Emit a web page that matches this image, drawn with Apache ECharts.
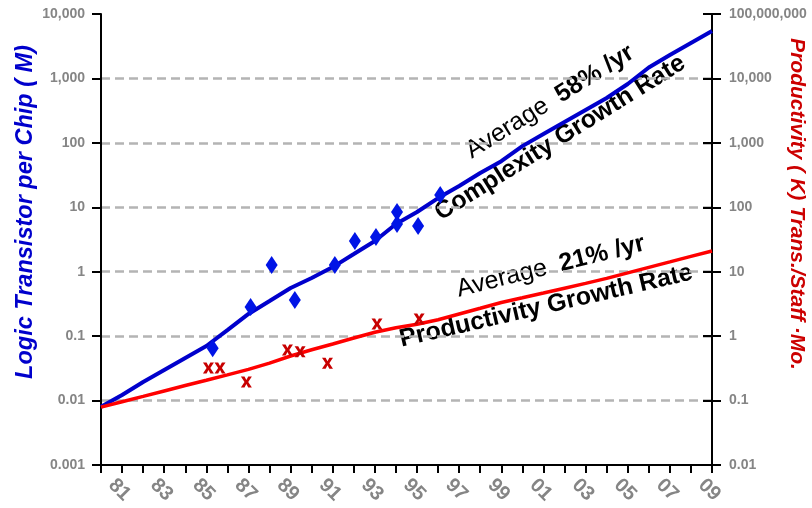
<!DOCTYPE html>
<html>
<head>
<meta charset="utf-8">
<script src="https://cdn.jsdelivr.net/npm/echarts@6/dist/echarts.min.js"></script>
<style>
  html, body { margin: 0; padding: 0; background: #fff; }
  #chart { width: 812px; height: 508px; }
</style>
</head>
<body>
<div id="chart"></div>
<script>
// Trend lines, one value per year
const lineYears = [1980, 1981, 1982, 1983, 1984, 1985, 1986, 1987, 1988, 1989,
                   1990, 1991, 1992, 1993, 1994, 1995, 1996, 1997, 1998, 1999,
                   2000, 2001, 2002, 2003, 2004, 2005, 2006, 2007, 2008, 2009];
// Logic transistors per chip (M)
const complexity = [0.008, 0.0122, 0.0194, 0.0298, 0.0458, 0.0703, 0.124, 0.221, 0.351, 0.559,
                    0.80, 1.18, 1.88, 3.0, 5.5, 8.45, 13.9, 21.4, 34, 52,
                    89, 137, 211, 324, 497, 819, 1479, 2307, 3548, 5445];
// Productivity (K transistors per staff-month)
const productivity = [0.079, 0.096, 0.116, 0.141, 0.171, 0.207, 0.251, 0.305, 0.382, 0.492,
                      0.614, 0.755, 0.935, 1.15, 1.35, 1.53, 1.80, 2.21, 2.71, 3.33,
                      3.94, 4.67, 5.55, 6.59, 7.87, 9.58, 11.7, 14.2, 17.3, 21.0];

// Individual designs: transistor count (M)
const chipYears = [1985.3, 1987.1, 1988.1, 1989.2, 1991.1, 1992.05, 1993.05, 1994.05, 1994.05, 1995.05, 1996.1];
const chipTransistors = [0.065, 0.283, 1.27, 0.364, 1.27, 3.0, 3.46, 8.45, 5.5, 5.12, 15.5];

// Individual designs: productivity (K trans./staff-month)
const teamYears = [1985.1, 1985.65, 1986.9, 1988.85, 1989.45, 1990.75, 1993.1, 1995.1];
const teamProductivity = [0.32, 0.32, 0.194, 0.61, 0.57, 0.38, 1.54, 1.85];

// Axis tick labels
const yearLabels = ['81', '82', '83', '84', '85', '86', '87', '88', '89', '90',
                    '91', '92', '93', '94', '95', '96', '97', '98', '99', '00',
                    '01', '02', '03', '04', '05', '06', '07', '08', '09'];
const leftTickLabels = ['0.001', '0.01', '0.1', '1', '10', '100', '1,000', '10,000'];
const rightTickLabels = ['0.01', '0.1', '1', '10', '100', '1,000', '10,000', '100,000,000'];

const pair = (xs, ys) => xs.map((x, i) => [x, ys[i]]);
const decadeIndex = (v, min) => Math.round(Math.log10(v) - Math.log10(min));

const FONT = '"Liberation Sans", Arial, Helvetica, sans-serif';
const tickLabelStyle = { color: '#858585', fontWeight: 'bold', fontSize: 14, fontFamily: FONT };
const black2 = { color: '#000', width: 2 };
const crossMark = 'path://M0,0 L3.3,0 L5,3.1 L6.7,0 L10,0 L6.7,5 L10,10 L6.7,10 L5,6.9 L3.3,10 L0,10 L3.3,5 Z';

const chart = echarts.init(document.getElementById('chart'), null, { renderer: 'canvas' });

chart.setOption({
  animation: false,
  backgroundColor: '#fff',
  grid: { left: 101, right: 100, top: 14, bottom: 43, containLabel: false },
  xAxis: [
    {
      type: 'value', min: 1980, max: 2009, interval: 1,
      axisLine: { show: true, lineStyle: black2 },
      axisTick: { show: true, length: 8, lineStyle: black2 },
      axisLabel: { show: false },
      splitLine: { show: false }
    },
    {
      type: 'category', data: yearLabels, position: 'bottom', boundaryGap: true,
      axisLine: { show: false }, axisTick: { show: false },
      axisLabel: {
        interval: 1, rotate: -45, margin: 17,
        color: '#858585', fontWeight: 'bold', fontSize: 20, fontFamily: FONT
      },
      splitLine: { show: false }
    }
  ],
  yAxis: [
    {
      type: 'log', logBase: 10, min: 0.001, max: 10000, position: 'left',
      axisLine: { show: true, lineStyle: black2 },
      axisTick: { show: true, length: 9, lineStyle: black2 },
      axisLabel: Object.assign({
        margin: 16,
        formatter: v => leftTickLabels[decadeIndex(v, 0.001)] || ''
      }, tickLabelStyle),
      minorTick: { show: false },
      splitLine: {
        show: true, showMinLine: false, showMaxLine: false,
        lineStyle: { color: '#b4b4b4', width: 2.5, type: [9, 5] }
      }
    },
    {
      type: 'log', logBase: 10, min: 0.01, max: 100000, position: 'right',
      axisLine: { show: true, lineStyle: black2 },
      axisTick: { show: true, length: 9, lineStyle: black2 },
      axisLabel: Object.assign({
        margin: 17,
        formatter: v => rightTickLabels[decadeIndex(v, 0.01)] || ''
      }, tickLabelStyle),
      splitLine: { show: false }
    },
    {
      // inner half of the right-hand tick marks
      type: 'log', logBase: 10, min: 0.01, max: 100000, position: 'right',
      axisLine: { show: false },
      axisTick: { show: true, inside: true, length: 9, lineStyle: black2 },
      axisLabel: { show: false },
      splitLine: { show: false }
    }
  ],
  series: [
    {
      name: 'Complexity', type: 'line', xAxisIndex: 0, yAxisIndex: 0,
      data: pair(lineYears, complexity),
      showSymbol: false, symbol: 'none',
      lineStyle: { color: '#0000cc', width: 4 }, z: 3
    },
    {
      name: 'Productivity', type: 'line', xAxisIndex: 0, yAxisIndex: 1,
      data: pair(lineYears, productivity),
      showSymbol: false, symbol: 'none',
      lineStyle: { color: '#ff0000', width: 3.5 }, z: 3
    },
    {
      name: 'Chips', type: 'scatter', xAxisIndex: 0, yAxisIndex: 0,
      data: pair(chipYears, chipTransistors),
      symbol: 'diamond', symbolSize: [12, 18],
      itemStyle: { color: '#0014e6', opacity: 1 }, z: 4
    },
    {
      name: 'Teams', type: 'scatter', xAxisIndex: 0, yAxisIndex: 1,
      data: pair(teamYears, teamProductivity),
      symbol: crossMark, symbolSize: [11, 11],
      itemStyle: { color: '#c80000', opacity: 1 }, z: 4
    }
  ],
  graphic: [
    {
      type: 'text', x: 26, y: 212, rotation: Math.PI / 2, silent: true,
      style: {
        text: 'Logic Transistor per Chip ( M)',
        font: 'italic bold 23.5px ' + FONT, fill: '#0000cc',
        textAlign: 'center', textVerticalAlign: 'middle'
      }
    },
    {
      type: 'text', x: 797, y: 204, rotation: -Math.PI / 2, silent: true,
      style: {
        text: 'Productivity ( K) Trans./Staff ·Mo.',
        font: 'italic bold 21px ' + FONT, fill: '#cc0000',
        textAlign: 'center', textVerticalAlign: 'middle'
      }
    },
    {
      type: 'text', x: 468, y: 153, rotation: 32 * Math.PI / 180, silent: true,
      style: {
        text: '{a|Average }{b|58% /yr}',
        textAlign: 'left', textVerticalAlign: 'middle',
        rich: {
          a: { font: '25px ' + FONT, fill: '#000', padding: [0, 6, 0, 0] },
          b: { font: 'bold 25px ' + FONT, fill: '#000' }
        }
      }
    },
    {
      type: 'text', x: 437, y: 215, rotation: 32 * Math.PI / 180, silent: true,
      style: {
        text: 'Complexity Growth Rate',
        font: 'bold 25px ' + FONT, fill: '#000',
        textAlign: 'left', textVerticalAlign: 'middle'
      }
    },
    {
      type: 'text', x: 457, y: 290, rotation: 14 * Math.PI / 180, silent: true,
      style: {
        text: '{a|Average }{b|21% /yr}',
        textAlign: 'left', textVerticalAlign: 'middle',
        rich: {
          a: { font: '25px ' + FONT, fill: '#000', padding: [0, 6, 0, 0] },
          b: { font: 'bold 25px ' + FONT, fill: '#000' }
        }
      }
    },
    {
      type: 'text', x: 400, y: 340, rotation: 13 * Math.PI / 180, silent: true,
      style: {
        text: 'Productivity Growth Rate',
        font: 'bold 25px ' + FONT, fill: '#000',
        textAlign: 'left', textVerticalAlign: 'middle'
      }
    }
  ]
});
</script>
</body>
</html>
